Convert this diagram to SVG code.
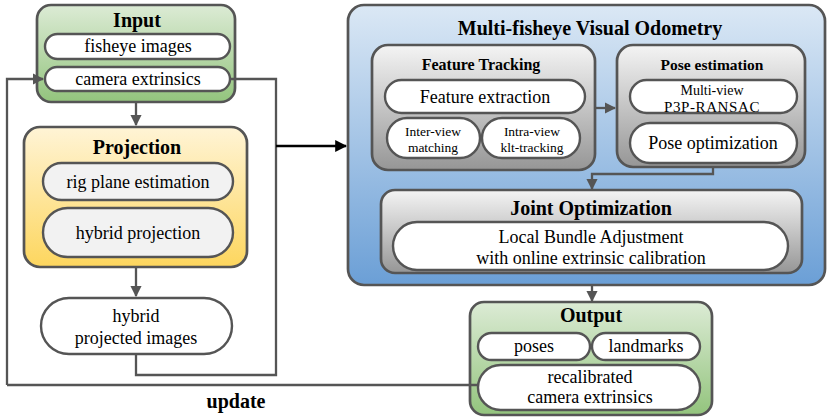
<svg xmlns="http://www.w3.org/2000/svg" width="831" height="417" viewBox="0 0 831 417">
<defs>
<linearGradient id="gGreen" x1="0" y1="0" x2="0" y2="1"><stop offset="0" stop-color="#dcebd5"/><stop offset="1" stop-color="#93c47d"/></linearGradient>
<linearGradient id="gYellow" x1="0" y1="0" x2="0" y2="1"><stop offset="0" stop-color="#fff4d6"/><stop offset="1" stop-color="#fdd65e"/></linearGradient>
<linearGradient id="gBlue" x1="0" y1="0" x2="0" y2="1"><stop offset="0" stop-color="#dbe8f5"/><stop offset="1" stop-color="#6b9fd6"/></linearGradient>
<linearGradient id="gGray" x1="0" y1="0" x2="0" y2="1"><stop offset="0" stop-color="#f4f4f4"/><stop offset="1" stop-color="#969696"/></linearGradient>
<marker id="ah" viewBox="0 0 10 10" refX="9" refY="5" markerWidth="5" markerHeight="5" orient="auto" markerUnits="strokeWidth"><path d="M0,0 L10,5 L0,10 z" fill="#555"/></marker>
<marker id="ahb" viewBox="0 0 10 10" refX="9" refY="5" markerWidth="5" markerHeight="5" orient="auto" markerUnits="strokeWidth"><path d="M0,0 L10,5 L0,10 z" fill="#000"/></marker>
</defs>
<style>
.box{stroke:#555;stroke-width:2.7}
.pill{fill:#fff;stroke:#555;stroke-width:2.4}
.pillg{fill:#f2f2f2;stroke:#555;stroke-width:2.4}
text{font-family:'Liberation Serif','Times New Roman',serif;fill:#000;text-anchor:middle;font-size:18px}
.b{font-weight:bold;font-size:20px}
.s{font-size:13.5px}
.c{fill:none;stroke:#555;stroke-width:2.3}
</style>

<g id="input">
<rect class="box" x="37" y="5" width="198" height="97" rx="14" fill="url(#gGreen)"/>
<text class="b" x="137" y="27">Input</text>
<rect class="pill" x="45" y="34" width="185" height="25" rx="12.5"/>
<text x="138" y="52">fisheye images</text>
<rect class="pill" x="45" y="67" width="185" height="24" rx="12"/>
<text x="138" y="85">camera extrinsics</text>
</g>

<g id="projection">
<rect class="box" x="24" y="127" width="223" height="140" rx="16" fill="url(#gYellow)"/>
<text class="b" x="137" y="154">Projection</text>
<rect class="pillg" x="43" y="163" width="190" height="37" rx="18.5"/>
<text x="138" y="188">rig plane estimation</text>
<rect class="pillg" x="43" y="208" width="190" height="49" rx="24.5"/>
<text x="138" y="239">hybrid projection</text>
</g>

<g id="hybrid-images">
<rect class="pill" x="41" y="298" width="191" height="56" rx="28"/>
<text x="136" y="322">hybrid</text>
<text x="136" y="344">projected images</text>
</g>

<g id="update-label">
<text class="b" x="236" y="408">update</text>
</g>

<g id="mvo">
<rect class="box" x="348" y="5" width="477" height="280" rx="16" fill="url(#gBlue)"/>
<text class="b" x="590" y="35">Multi-fisheye Visual Odometry</text>
</g>

<g id="feature-tracking">
<rect class="box" x="372" y="45" width="223" height="125" rx="16" fill="url(#gGray)"/>
<text class="b" x="481" y="70" style="font-size:16px">Feature Tracking</text>
<rect class="pill" x="385" y="80" width="200" height="33" rx="16.5"/>
<text x="485" y="103">Feature extraction</text>
<rect class="pill" x="387" y="118" width="93" height="40" rx="20"/>
<text class="s" x="433" y="136">Inter-view</text>
<text class="s" x="433" y="152">matching</text>
<rect class="pill" x="482" y="118" width="98" height="40" rx="20"/>
<text class="s" x="532" y="136">Intra-view</text>
<text class="s" x="532" y="152">klt-tracking</text>
</g>

<g id="pose-estimation">
<rect class="box" x="617" y="45" width="188" height="122" rx="16" fill="url(#gGray)"/>
<text class="b" x="712" y="70" style="font-size:15.5px">Pose estimation</text>
<rect class="pill" x="630" y="80" width="167" height="33" rx="16.5"/>
<text x="712" y="95" style="font-size:14px">Multi-view</text>
<text x="712" y="112" style="font-size:15px;letter-spacing:0.6px">P3P-RANSAC</text>
<rect class="pill" x="630" y="123" width="167" height="40" rx="20"/>
<text x="713" y="149">Pose optimization</text>
</g>

<g id="joint-optimization">
<rect class="box" x="381" y="190" width="421" height="83" rx="14" fill="url(#gGray)"/>
<text class="b" x="591" y="215">Joint Optimization</text>
<rect class="pill" x="393" y="222" width="395" height="48" rx="24"/>
<text x="591" y="243">Local Bundle Adjustment</text>
<text x="591" y="264">with online extrinsic calibration</text>
</g>

<g id="output">
<rect class="box" x="470" y="302" width="242" height="113" rx="14" fill="url(#gGreen)"/>
<text class="b" x="591" y="322">Output</text>
<rect class="pill" x="478" y="333" width="112" height="27" rx="13.5"/>
<text x="534" y="352">poses</text>
<rect class="pill" x="592" y="333" width="108" height="27" rx="13.5"/>
<text x="646" y="352">landmarks</text>
<rect class="pill" x="478" y="365" width="222" height="45" rx="22.5"/>
<text x="590" y="383">recalibrated</text>
<text x="590" y="403">camera extrinsics</text>
</g>

<g id="connectors">
<path class="c" d="M7,385 L7,79 L43,79" marker-end="url(#ah)"/>
<path class="c" d="M230,79 L276,79 L276,375 L136,375 L136,355"/>
<path class="c" d="M136,103 L136,125" marker-end="url(#ah)"/>
<path class="c" d="M136,268 L136,296" marker-end="url(#ah)"/>
<path fill="none" stroke="#000" stroke-width="2.4" d="M276,146 L346,146" marker-end="url(#ahb)"/>
<path class="c" d="M7,385 L478,385"/>
<path class="c" d="M596,108 L615,108" marker-end="url(#ah)"/>
<path class="c" d="M713,168 L713,174 L592,174 L592,189" marker-end="url(#ah)"/>
<path class="c" d="M592,286 L592,301" marker-end="url(#ah)"/>
</g>
</svg>
